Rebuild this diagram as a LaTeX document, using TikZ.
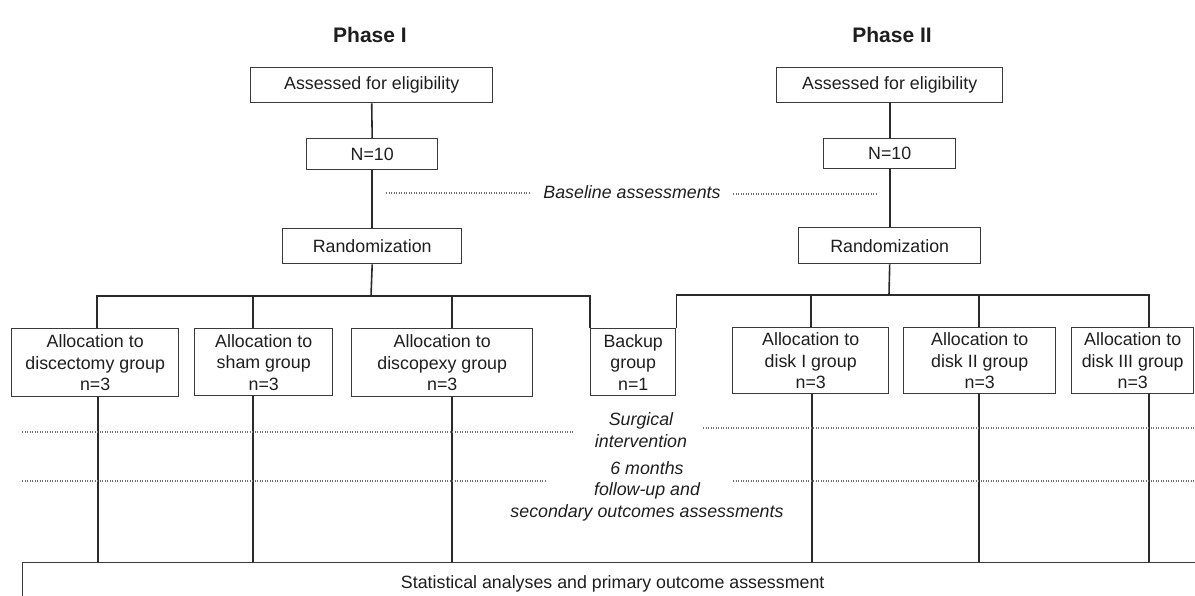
\documentclass[tikz,border=0pt]{standalone}
\usepackage{fontspec}
\setmainfont{Liberation Sans}
\newcommand\myfs{\fontsize{17.8}{21.5}\selectfont}
\definecolor{txt}{HTML}{1E1E1E}
\definecolor{boxc}{HTML}{3A3A3A}
\definecolor{linec}{HTML}{2A2A2A}
\definecolor{dotc}{HTML}{707070}
\tikzset{
  box/.style={draw=boxc, line width=1.4pt, inner sep=0pt, align=center, font=\myfs, text=txt, anchor=north west},
  conn/.style={draw=linec, line width=1.6pt},
  dotline/.style={draw=dotc, line width=1.3pt, dash pattern=on 1.3pt off 1.2pt},
  lbl/.style={font=\myfs\itshape, text=txt, align=center, inner sep=0pt},
  phase/.style={font=\fontsize{21}{24}\selectfont\bfseries, text=txt, inner sep=0pt}
}
\begin{document}
\begin{tikzpicture}[x=1pt,y=-1pt]
\useasboundingbox (0,0) rectangle (1195,595);
% phase titles
\node[phase] (ph1) at (370,35) {Phase I};
\node[phase] (ph2) at (892,35) {Phase II};
% phase I top
\node[box, minimum width=242, minimum height=35] (a1) at (250,67) {Assessed for eligibility};
\node[box, minimum width=131, minimum height=31] (n1) at (306,138) {N=10};
\node[box, minimum width=179, minimum height=35] (r1) at (282,228) {Randomization};
% phase II top
\node[box, minimum width=226, minimum height=35] (a2) at (776,67) {Assessed for eligibility};
\node[box, minimum width=132, minimum height=30] (n2) at (823,138) {N=10};
\node[box, minimum width=182, minimum height=36] (r2) at (798,227) {Randomization};
% allocation boxes
\node[box, minimum width=167, minimum height=68] (g1) at (11,328) {Allocation to\\discectomy group\\n=3};
\node[box, minimum width=138, minimum height=67] (g2) at (194,328) {Allocation to\\sham group\\n=3};
\node[box, minimum width=181, minimum height=68] (g3) at (351,328) {Allocation to\\discopexy group\\n=3};
\node[box, minimum width=85, minimum height=67] (bk) at (590,328) {Backup\\group\\n=1};
\node[box, minimum width=156, minimum height=66] (d1) at (732,327) {Allocation to\\disk I group\\n=3};
\node[box, minimum width=152, minimum height=66] (d2) at (903,327) {Allocation to\\disk II group\\n=3};
\node[box, minimum width=122, minimum height=66] (d3) at (1071,327) {Allocation to\\disk III group\\n=3};
% bottom box
\node[box, minimum width=1180, minimum height=43] (st) at (22,562) {Statistical analyses and primary outcome assessment};
% labels
\node[lbl] (bl) at (632,192) {Baseline assessments};
\node[lbl] (si) at (641,430) {Surgical\\intervention};
\node[lbl] (fu) at (647,491) {6 months\\follow-up and\\secondary outcomes assessments};
% branch coordinates
\coordinate (b1) at (371,296);
\coordinate (b2) at (889,295);
% vertical top connectors
\draw[conn] (a1.south) -- (n1.north);
\draw[conn] (n1.south) -- (r1.north -| n1.south);
\draw[conn] (r1.south -| n1.south) -- (b1);
\draw[conn] (a2.south) -- (n2.north);
\draw[conn] (n2.south) -- (r2.north -| n2.south);
\draw[conn] (r2.south -| n2.south) -- (b2);
% phase I branch
\draw[conn] ([xshift=1.5pt]g1.north) -- ([xshift=1.5pt]g1.north |- b1) -| (bk.north west);
\draw[conn] ([xshift=-11pt]g2.north) -- ([xshift=-11pt]g2.north |- b1);
\draw[conn] ([xshift=9.5pt]g3.north) -- ([xshift=9.5pt]g3.north |- b1);
% phase II branch
\draw[conn] (bk.north east) |- ([xshift=16pt]d3.north |- b2) -- ([xshift=16pt]d3.north);
\draw[conn] (d1.north) -- (d1.north |- b2);
\draw[conn] ([xshift=-1pt]d2.north) -- ([xshift=-1pt]d2.north |- b2);
% drops to bottom
\draw[conn] ([xshift=3pt]g1.south) -- ([xshift=3pt]g1.south |- st.north);
\draw[conn] ([xshift=-11pt]g2.south) -- ([xshift=-11pt]g2.south |- st.north);
\draw[conn] ([xshift=10pt]g3.south) -- ([xshift=10pt]g3.south |- st.north);
\draw[conn] ([xshift=1pt]d1.south) -- ([xshift=1pt]d1.south |- st.north);
\draw[conn] ([xshift=-0.5pt]d2.south) -- ([xshift=-0.5pt]d2.south |- st.north);
\draw[conn] ([xshift=16pt]d3.south) -- ([xshift=16pt]d3.south |- st.north);
% dotted lines
\draw[dotline] (386,193) -- (530,193);
\draw[dotline] (733,194) -- (877,194);
\draw[dotline] (22,432) -- (573,432);
\draw[dotline] (703,428) -- (1195,428);
\draw[dotline] (22,481) -- (546,481);
\draw[dotline] (733,481) -- (1195,481);
\end{tikzpicture}
\end{document}
